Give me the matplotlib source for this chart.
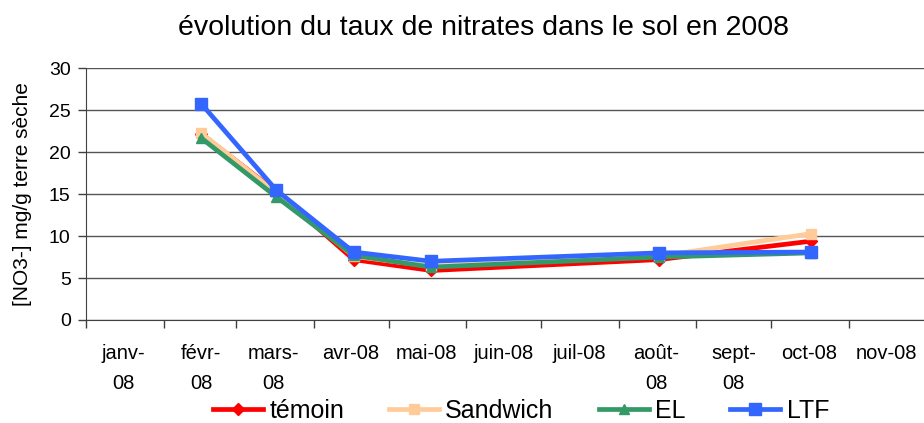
import numpy as np
import pandas as pd
import matplotlib
matplotlib.use('Agg')
import matplotlib.pyplot as plt

plt.rcParams['font.family'] = ['Liberation Sans', 'DejaVu Sans']

# sampling dates and measured values (mg NO3- / g dry soil)
dates = pd.to_datetime(['2008-02-16', '2008-03-17', '2008-04-17',
                        '2008-05-18', '2008-08-17', '2008-10-17'])
temoin = [22.2, 15.3, 7.2, 5.9, 7.2, 9.4]
sandwich = [22.3, 15.2, 7.6, 6.4, 7.6, 10.3]
el = [21.7, 14.7, 7.7, 6.3, 7.5, 8.0]
ltf = [25.8, 15.5, 8.1, 7.0, 8.0, 8.1]

month_labels = ['janv-\n08', 'févr-\n08', 'mars-\n08', 'avr-08', 'mai-08',
                'juin-08', 'juil-08', 'août-\n08', 'sept-\n08', 'oct-08', 'nov-08']

fig = plt.figure(figsize=(9.24, 4.23), dpi=100)
ax = fig.add_axes([86/924, 1 - 320/423, 1 - 86/924, (320 - 68.3)/423])

ax.plot(dates, temoin, color='#FF0000', lw=3.4, marker='D', ms=6, label='témoin')
ax.plot(dates, sandwich, color='#FFCC99', lw=3.4, marker='s', ms=7, label='Sandwich')
ax.plot(dates, el, color='#339966', lw=3.4, marker='^', ms=7, label='EL')
ax.plot(dates, ltf, color='#3366FF', lw=3.4, marker='s', ms=8.5, label='LTF')

ax.set_ylim(0, 30)
ax.set_yticks(np.arange(0, 31, 5))
ax.set_xlim(pd.Timestamp('2008-01-01'), pd.Timestamp('2008-12-01'))

starts = pd.date_range('2008-01-01', '2008-11-01', freq='MS')
mids = starts + pd.Timedelta(days=15)
ax.set_xticks(starts)
ax.set_xticklabels([])
ax.set_xticks(mids, minor=True)
ax.set_xticklabels(month_labels, minor=True, linespacing=1.75)
ax.tick_params(axis='x', which='minor', length=0, pad=17, labelsize=14.5)
ax.tick_params(axis='x', which='major', length=6, width=1, color='#404040', direction='out')
ax.tick_params(axis='y', length=6, width=1, color='#404040', labelsize=14, pad=5)

ax.grid(True, axis='y', color='#555555', lw=1)
ax.set_axisbelow(True)
for s in ['top', 'right']:
    ax.spines[s].set_visible(False)
for s in ['left', 'bottom']:
    ax.spines[s].set_color('#404040')

ax.set_ylabel('[NO3-] mg/g terre sèche', fontsize=15, labelpad=12)
fig.suptitle('évolution du taux de nitrates dans le sol en 2008', fontsize=20.5,
             x=483/924, y=0.965)

fig.legend(loc='lower center', bbox_to_anchor=(521/924, -0.035), ncol=4, frameon=False,
           fontsize=18, handlelength=2.0, handletextpad=0.25, columnspacing=1.8,
           borderaxespad=0.2)

fig.savefig('out.png', dpi=100)
